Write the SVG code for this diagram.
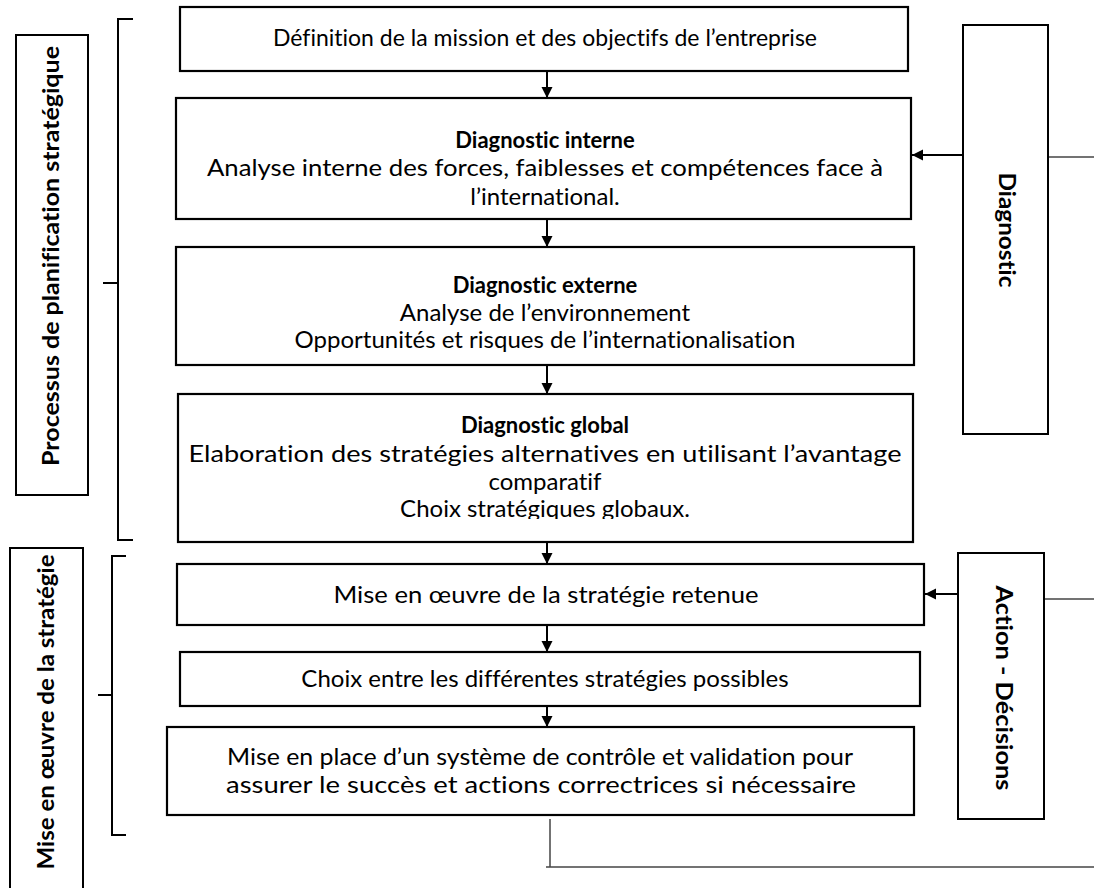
<svg xmlns="http://www.w3.org/2000/svg" width="1094" height="888" viewBox="0 0 1094 888">
<style>
.box{fill:#fff;stroke:#000;stroke-width:2.2}
.lbl{fill:#fff;stroke:#000;stroke-width:2}
.t{font-family:Lato,"Open Sans",sans-serif;font-size:24px;fill:#000;text-anchor:middle;font-variant-ligatures:none}
.b{font-family:Lato,"Open Sans",sans-serif;font-size:22px;font-weight:bold;fill:#000;text-anchor:middle;font-variant-ligatures:none}
.conn{stroke:#000;stroke-width:2;fill:none}
.thin{stroke:#444;stroke-width:1.5;fill:none}
</style>
<defs>
<marker id="ah" markerUnits="userSpaceOnUse" markerWidth="12" markerHeight="12" refX="11" refY="6" orient="auto">
<path d="M0,0.5 L11,6 L0,11.5 z" fill="#000"/>
</marker>
<clipPath id="clip4"><rect x="170" y="394" width="750" height="125"/></clipPath>
</defs>
<rect width="1094" height="888" fill="#fff"/>

<g id="label-processus">
<rect class="lbl" x="16" y="35" width="72" height="460"/>
<text class="b" transform="translate(59,256) rotate(-90)" textLength="420" lengthAdjust="spacingAndGlyphs">Processus de planification stratégique</text>
</g>
<g id="bracket-processus">
<path class="conn" d="M133,19 L118,19 L118,540 L133,540 M103,283 L118,283"/>
</g>
<g id="label-mise">
<rect class="lbl" x="10" y="548" width="73" height="350"/>
<text class="b" transform="translate(54,712) rotate(-90)" textLength="315" lengthAdjust="spacingAndGlyphs">Mise en œuvre de la stratégie</text>
</g>
<g id="bracket-mise">
<path class="conn" d="M126,556 L112,556 L112,835 L126,835 M98,695 L112,695"/>
</g>

<g id="n1">
<rect class="box" x="180" y="7" width="728" height="64"/>
<text class="t" font-size="22" x="545" y="46" textLength="544" lengthAdjust="spacingAndGlyphs">Définition de la mission et des objectifs de l’entreprise</text>
</g>
<g id="n2">
<rect class="box" x="176" y="98" width="735" height="121"/>
<text class="b" x="545" y="148">Diagnostic interne</text>
<text class="t" x="545" y="176" textLength="676" lengthAdjust="spacingAndGlyphs">Analyse interne des forces, faiblesses et compétences face à</text>
<text class="t" x="545" y="205">l’international.</text>
</g>
<g id="n3">
<rect class="box" x="176" y="247" width="738" height="118"/>
<text class="b" x="545" y="293">Diagnostic externe</text>
<text class="t" x="545" y="321">Analyse de l’environnement</text>
<text class="t" x="545" y="348">Opportunités et risques de l’internationalisation</text>
</g>
<g id="n4">
<rect class="box" x="178" y="394" width="735" height="148"/>
<text class="b" x="545" y="433">Diagnostic global</text>
<text class="t" x="545" y="462" textLength="713" lengthAdjust="spacingAndGlyphs">Elaboration des stratégies alternatives en utilisant l’avantage</text>
<text class="t" x="545" y="490">comparatif</text>
<text class="t" x="545" y="517" clip-path="url(#clip4)">Choix stratégiques globaux.</text>
</g>
<g id="n5">
<rect class="box" x="177" y="564" width="747" height="61"/>
<text class="t" x="546" y="603" textLength="425" lengthAdjust="spacingAndGlyphs">Mise en œuvre de la stratégie retenue</text>
</g>
<g id="n6">
<rect class="box" x="180" y="652" width="740" height="54"/>
<text class="t" x="545" y="687">Choix entre les différentes stratégies possibles</text>
</g>
<g id="n7">
<rect class="box" x="167" y="727" width="747" height="88"/>
<text class="t" x="540" y="765" textLength="626" lengthAdjust="spacingAndGlyphs">Mise en place d’un système de contrôle et validation pour</text>
<text class="t" x="541" y="793" textLength="630" lengthAdjust="spacingAndGlyphs">assurer le succès et actions correctrices si nécessaire</text>
</g>

<g id="n-diagnostic">
<rect class="lbl" x="963" y="25" width="85" height="409"/>
<text class="b" transform="translate(999,230) rotate(90)" textLength="115" lengthAdjust="spacingAndGlyphs">Diagnostic</text>
</g>
<g id="n-action">
<rect class="lbl" x="958" y="553" width="86" height="266"/>
<text class="b" transform="translate(996,688) rotate(90)" textLength="205" lengthAdjust="spacingAndGlyphs">Action - Décisions</text>
</g>

<g id="connectors">
<line class="conn" x1="547" y1="71" x2="547" y2="98" marker-end="url(#ah)"/>
<line class="conn" x1="547" y1="219" x2="547" y2="247" marker-end="url(#ah)"/>
<line class="conn" x1="547" y1="365" x2="547" y2="394" marker-end="url(#ah)"/>
<line class="conn" x1="547" y1="542" x2="547" y2="564" marker-end="url(#ah)"/>
<line class="conn" x1="547" y1="625" x2="547" y2="652" marker-end="url(#ah)"/>
<line class="conn" x1="547" y1="706" x2="547" y2="727" marker-end="url(#ah)"/>
<line class="conn" x1="962" y1="155" x2="912" y2="155" marker-end="url(#ah)"/>
<line class="conn" x1="957" y1="594" x2="925" y2="594" marker-end="url(#ah)"/>
<line class="thin" x1="1049" y1="157" x2="1094" y2="157"/>
<line class="thin" x1="1045" y1="599" x2="1094" y2="599"/>
<polyline class="thin" points="550,819 550,867"/>
<line class="thin" x1="546" y1="867" x2="1094" y2="867"/>
</g>
</svg>
